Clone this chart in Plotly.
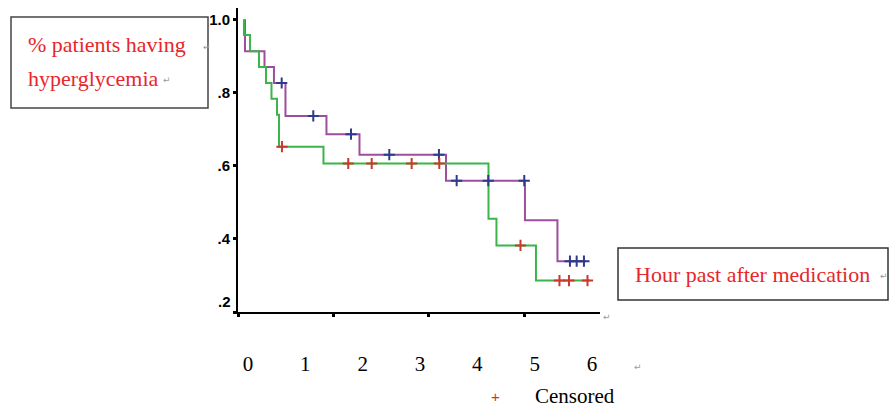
import plotly.graph_objects as go

# ---------------- data ----------------
hour_ticks = [0, 1, 2, 3, 4, 5, 6]
hour_tick_text = ["0", "1", "2", "3", "4", "5", "6"]
y_ticks = [1.0, 0.8, 0.6, 0.4, 0.2]
y_tick_text = ["1.0", ".8", ".6", ".4", ".2"]

green_start = -0.07
green_times = [-0.07, 0.035, 0.192, 0.314, 0.410, 0.506, 0.541, 1.317, 4.195, 4.334, 5.023]
green_levels = [0.957, 0.913, 0.870, 0.826, 0.783, 0.739, 0.652, 0.606, 0.455, 0.382, 0.286]
green_end = 5.965
green_censored = [0.593, 1.749, 2.158, 2.855, 3.337, 4.753, 5.433, 5.599, 5.922]

purple_start = -0.052
purple_times = [-0.052, 0.288, 0.453, 0.654, 1.369, 1.945, 3.454, 4.831, 5.398]
purple_levels = [0.913, 0.870, 0.826, 0.736, 0.686, 0.630, 0.559, 0.451, 0.339]
purple_end = 5.895
purple_censored = [0.588, 1.139, 1.797, 2.465, 3.331, 3.640, 4.191, 4.819, 5.616, 5.733, 5.860]

# ---------------- helpers ----------------
def step_xy(start, times, levels, end):
    return [start] + list(times) + [end], [1.0] + list(levels) + [levels[-1]]


def level_at(t, times, levels):
    lv = 1.0
    for ti, li in zip(times, levels):
        if ti <= t:
            lv = li
    return lv


W, H = 890, 409
ML, MR, MT, MB = 238, 290, 8, 97
PW, PH = W - ML - MR, H - MT - MB


def px(x):
    return (x - ML) / PW


def py(y):
    return (H - MB - y) / PH


PURPLE = "#9d4f9e"
GREEN = "#3bb54a"
NAVY = "#2f3b8a"
RED = "#c83a2e"
TXTRED = "#e8262b"
SERIF = "Liberation Serif, Times New Roman, serif"
YFONT = dict(family="Liberation Sans, Arial", size=15, color="black", weight="bold")

fig = go.Figure()

xs, ys = step_xy(purple_start, purple_times, purple_levels, purple_end)
fig.add_trace(go.Scatter(x=xs, y=ys, mode="lines", line=dict(color=PURPLE, width=2, shape="hv"),
                         showlegend=False, hoverinfo="skip"))
xs, ys = step_xy(green_start, green_times, green_levels, green_end)
fig.add_trace(go.Scatter(x=xs, y=ys, mode="lines", line=dict(color=GREEN, width=2, shape="hv"),
                         showlegend=False, hoverinfo="skip"))

fig.add_trace(go.Scatter(
    x=purple_censored, y=[level_at(t, purple_times, purple_levels) for t in purple_censored],
    mode="markers", marker=dict(symbol="cross-thin", size=8, color=NAVY, line=dict(color=NAVY, width=2)),
    showlegend=False))
fig.add_trace(go.Scatter(
    x=green_censored, y=[level_at(t, green_times, green_levels) for t in green_censored],
    mode="markers", marker=dict(symbol="cross-thin", size=8, color=RED, line=dict(color=RED, width=2)),
    showlegend=False))

# the bottom label (".2") sits a little above its tick in the reference; draw it separately
axis_tick_text = y_tick_text[:-1] + [""]

fig.update_layout(
    width=W, height=H,
    margin=dict(l=ML, r=MR, t=MT, b=MB),
    paper_bgcolor="white", plot_bgcolor="white",
    xaxis=dict(range=[-0.174, 6.140], showgrid=False, zeroline=False,
               showline=True, linecolor="black", linewidth=2,
               tickvals=hour_ticks, ticktext=hour_tick_text, ticks="",
               ticklabelstandoff=32,
               tickfont=dict(family=SERIF, size=21, color="black"),
               minor=dict(tickvals=[-0.174, 1.50, 3.157, 4.83], ticks="outside",
                          ticklen=3, tickwidth=3, tickcolor="black")),
    yaxis=dict(range=[0.2, 1.031], showgrid=False, zeroline=False,
               showline=True, linecolor="black", linewidth=2,
               tickvals=y_ticks, ticktext=axis_tick_text, ticks="outside",
               ticklen=3, tickwidth=3, tickcolor="black",
               tickfont=YFONT),
)
fig.add_annotation(xref="paper", yref="paper", x=px(233), y=py(301), xanchor="right", yanchor="middle",
                   text=y_tick_text[-1], showarrow=False, font=YFONT)

# text boxes
fig.add_shape(type="rect", xref="paper", yref="paper",
              x0=px(11), x1=px(208), y0=py(108), y1=py(17),
              line=dict(color="#444444", width=1.5), fillcolor="white", layer="above")
fig.add_shape(type="rect", xref="paper", yref="paper",
              x0=px(618), x1=px(888), y0=py(300), y1=py(248),
              line=dict(color="#333333", width=1.5), fillcolor="white", layer="above")

fig.add_annotation(xref="paper", yref="paper", x=px(26), y=py(44), xanchor="left", yanchor="middle",
                   text="% patients having", showarrow=False,
                   font=dict(family=SERIF, size=22, color=TXTRED))
fig.add_annotation(xref="paper", yref="paper", x=px(26), y=py(78), xanchor="left", yanchor="middle",
                   text="hyperglycemia", showarrow=False,
                   font=dict(family=SERIF, size=22, color=TXTRED))
fig.add_annotation(xref="paper", yref="paper", x=px(633), y=py(274), xanchor="left", yanchor="middle",
                   text="Hour past after medication", showarrow=False,
                   font=dict(family=SERIF, size=22, color=TXTRED))

# legend
fig.add_annotation(xref="paper", yref="paper", x=px(495), y=py(396), xanchor="center", yanchor="middle",
                   text="+", showarrow=False, font=dict(family="Liberation Sans", size=15, color=RED))
fig.add_annotation(xref="paper", yref="paper", x=px(533), y=py(396), xanchor="left", yanchor="middle",
                   text="Censored", showarrow=False, font=dict(family=SERIF, size=21, color="black"))

# paragraph marks
for (mx, my) in [(167, 80), (207, 47), (607, 317), (638, 367), (884, 276)]:
    fig.add_annotation(xref="paper", yref="paper", x=px(mx), y=py(my), xanchor="center", yanchor="middle",
                       text="↵", showarrow=False, font=dict(family="DejaVu Sans", size=9, color="#999999"))

fig.write_html("out.html", config={"displayModeBar": False},
               post_script="document.body.style.margin='0px';document.body.style.overflow='hidden';")
